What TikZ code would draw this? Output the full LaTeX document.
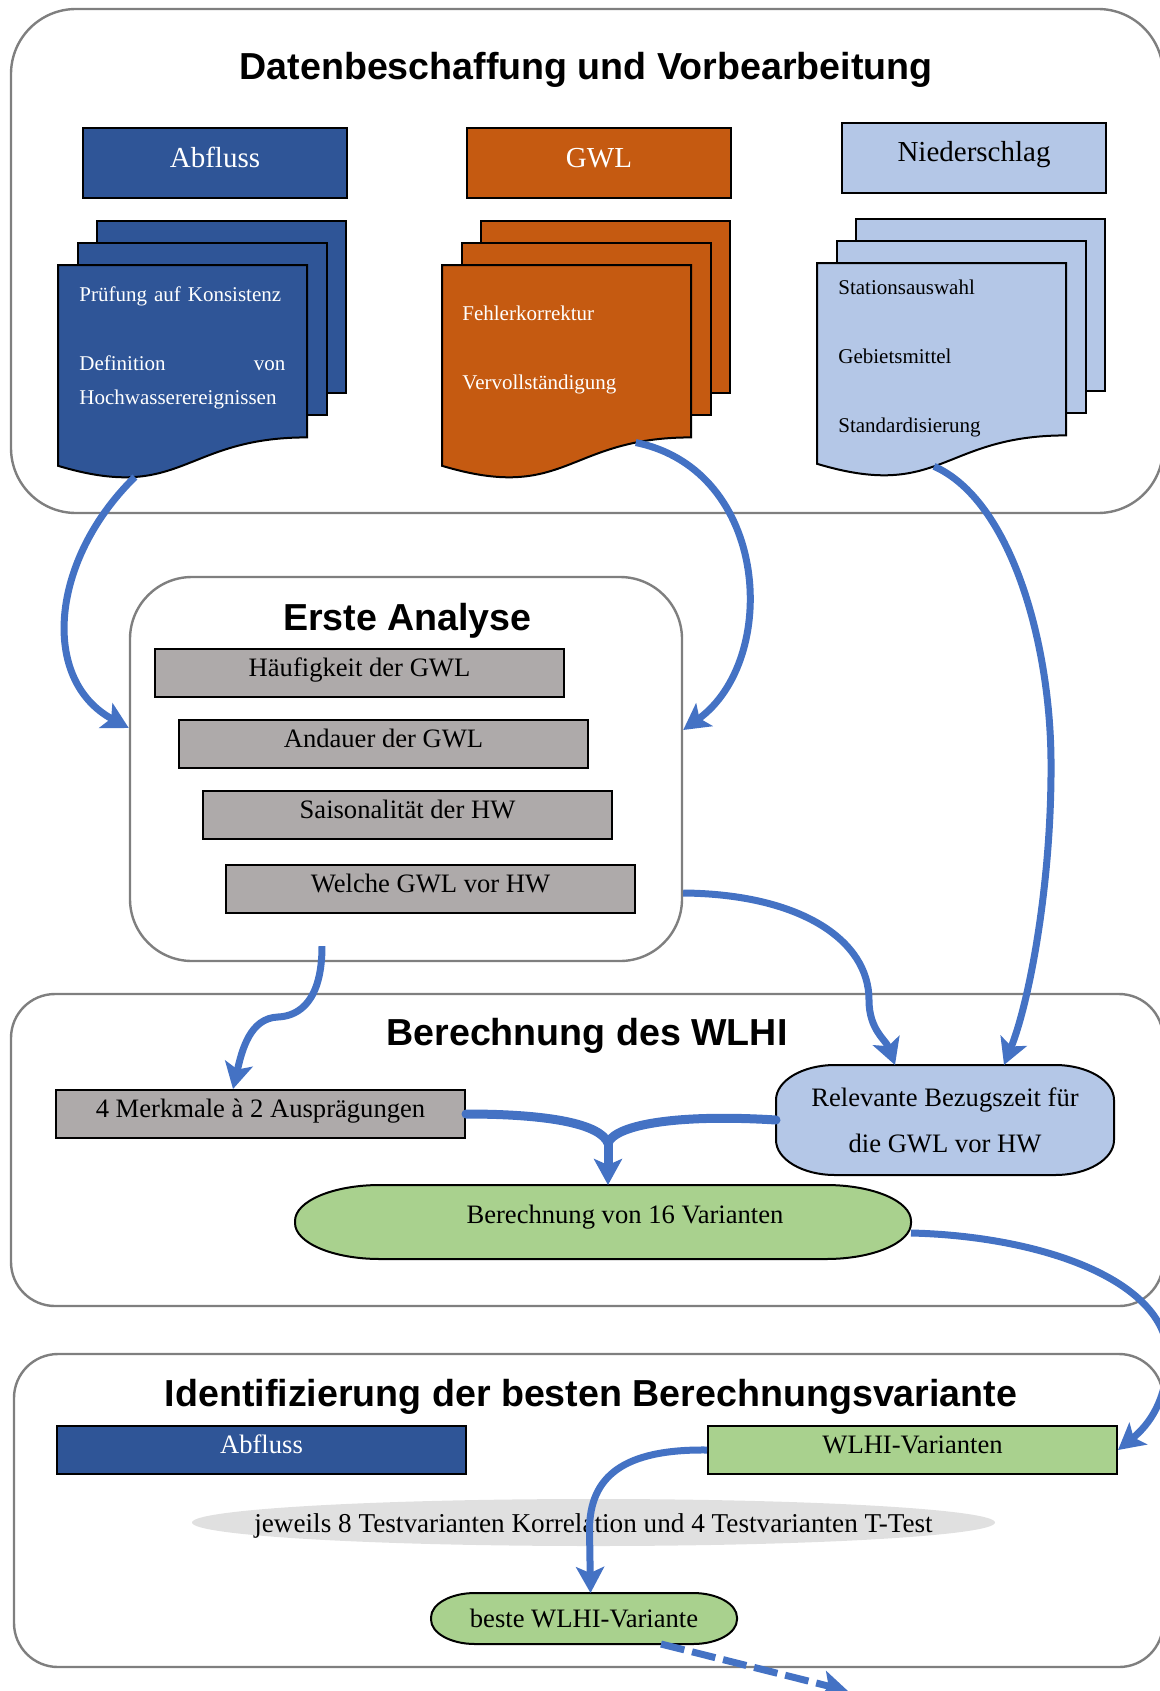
\documentclass[tikz,border=0pt]{standalone}
\usepackage{fontspec}
\setmainfont{Liberation Serif}
\setsansfont{Liberation Sans}
\usetikzlibrary{arrows.meta,backgrounds,calc}

\definecolor{abfblue}{HTML}{2F5597}
\definecolor{gwlorange}{HTML}{C55A11}
\definecolor{nsblue}{HTML}{B4C7E7}
\definecolor{boxgray}{HTML}{AEAAAA}
\definecolor{varigreen}{HTML}{A9D18E}
\definecolor{testgray}{HTML}{E0E0E0}
\definecolor{flowblue}{HTML}{4472C4}
\definecolor{framegray}{HTML}{7F7F7F}

\begin{document}
\begin{tikzpicture}[x=1pt, y=1pt, every node/.style={font=\fontsize{13.3}{16}\selectfont},
	>={Stealth[length=13pt, width=14pt, inset=3pt]},
	groupframe/.style={draw=framegray, line width=1.2pt},
	grouptitle/.style={anchor=base, font=\sffamily\bfseries\fontsize{18.8}{22}\selectfont},
	stepbase/.style={draw=black, line width=1pt, inner sep=0pt, anchor=north west},
	stepbox/.style={stepbase, minimum width=204.5pt, text height=13.5pt, text depth=10.5pt},
	headbox/.style={stepbase, minimum width=132pt, text height=19.5pt, text depth=15.5pt, font=\fontsize{14.5}{17}\selectfont},
	doctext/.style={inner sep=0pt, anchor=base west, text width=110pt, align=left, font=\fontsize{10.5}{17.25}\selectfont},
	docpage/.style={draw=black, line width=1pt},
	flowarrow/.style={draw=flowblue, line width=3.5pt, ->},
	ovalpath/.style n args={3}{insert path={([xshift=#2pt]#1.north west) -- ([xshift=-#2pt]#1.north east)
		arc[start angle=90, end angle=0, x radius=#2, y radius=#3] -- ([yshift=#3pt]#1.south east)
		arc[start angle=0, end angle=-90, x radius=#2, y radius=#3] -- ([xshift=#2pt]#1.south west)
		arc[start angle=270, end angle=180, x radius=#2, y radius=#3] -- ([yshift=-#3pt]#1.north west)
		arc[start angle=180, end angle=90, x radius=#2, y radius=#3] -- cycle}}]
	\useasboundingbox (0,0) rectangle (580,-845.5);

	% group frames
	\node[groupframe, rounded corners=32.5pt, minimum width=576pt, minimum height=252pt] (fData) at (293.5,-130.5) {};
	\node[groupframe, rounded corners=31pt, minimum width=276pt, minimum height=192pt] (fErste) at (203,-384.5) {};
	\node[groupframe, rounded corners=22pt, minimum width=576pt, minimum height=156pt] (fWlhi) at (293.5,-575) {};
	\node[groupframe, rounded corners=22pt, minimum width=574.5pt, minimum height=156.5pt] (fIdent) at (294.25,-755.25) {};

	\node[grouptitle] (tData) at (293,-40) {Datenbeschaffung und Vorbearbeitung};
	\node[grouptitle] (tErste) at (203.7,-315.3) {Erste Analyse};
	\node[grouptitle] (tWlhi) at (293.5,-522.5) {Berechnung des WLHI};
	\node[grouptitle] (tIdent) at (295.5,-703) {Identifizierung der besten Berechnungsvariante};

	% data sources
	\node[headbox, fill=abfblue, text=white] (hAbf) at (41,-63.5) {Abfluss};
	\node[headbox, fill=gwlorange, text=white] (hGwl) at (233,-63.5) {GWL};
	\node[headbox, fill=nsblue] (hNs) at (420.5,-61) {Niederschlag};

	\foreach \x/\y/\col/\p/\nm in {29/-132.5/abfblue/0.737/abf, 221/-132.5/gwlorange/0.175/gwl, 408.5/-131.5/nsblue/0.54/ns}{
		\draw[docpage, fill=\col] (\x+19.5,\y+22) rectangle ++(124.5,-86.2);
		\draw[docpage, fill=\col] (\x+10,\y+11) rectangle ++(124.5,-86.2);
		\draw[docpage, fill=\col] (\x,\y) -- ++(124.5,0) -- ++(0,-86.2)
			.. controls (\x+62.25,\y-86.2) and (\x+62.25,\y-119.1) .. (\x,\y-100.4) coordinate[pos=\p] (\nm-bot) -- cycle;
	}
	\node[doctext, text width=103pt, text=white] (abfTxt) at (39.5,-150.5) {Prüfung auf Konsistenz\\[17.25pt]Definition\hfill von\\Hochwasserereignissen};
	\node[doctext, text=white] (gwlTxt) at (231,-160) {Fehlerkorrektur\\[17.25pt]Vervollständigung};
	\node[doctext] (nsTxt) at (419,-147) {Stationsauswahl\\[17.25pt]Gebietsmittel\\[17.25pt]Standardisierung};

	% erste analyse
	\node[stepbox, fill=boxgray] (haeuf) at (77,-324) {Häufigkeit der GWL};
	\node[stepbox, fill=boxgray] (andauer) at (89,-359.5) {Andauer der GWL};
	\node[stepbox, fill=boxgray] (saison) at (101,-395) {Saisonalität der HW};
	\node[stepbox, fill=boxgray] (welche) at (112.5,-432) {Welche GWL vor HW};

	% WLHI
	\node[stepbox, fill=boxgray] (merk) at (27.5,-544.5) {4 Merkmale à 2 Ausprägungen};
	\node[stepbase, draw=none, minimum width=168pt, minimum height=54pt, align=center, font=\fontsize{13.3}{23}\selectfont] (relev) at (388,-532.5) {Relevante Bezugszeit für\\die GWL vor HW};
	\node[stepbase, draw=none, minimum width=307pt, text height=18.5pt, text depth=17.5pt] (ber16) at (147.5,-592.5) {\hspace*{22pt}Berechnung von 16 Varianten};

	% best variant
	\node[stepbox, fill=abfblue, text=white] (abf2) at (28,-712.5) {Abfluss};
	\node[stepbox, fill=varigreen] (wlhiv) at (353.5,-712.5) {WLHI-Varianten};
	\node[stepbase, draw=none, minimum width=401.5pt, text height=16.5pt, text depth=7pt, font=\fontsize{13.6}{16}\selectfont] (test) at (95.5,-749) {jeweils 8 Testvarianten Korrelation und 4 Testvarianten T-Test};
	\node[stepbase, draw=none, minimum width=152pt, text height=16.5pt, text depth=8pt] (beste) at (215.5,-796.5) {beste WLHI-Variante};

	\begin{scope}[on background layer]
		\fill[testgray] (test.center) ellipse[x radius=200.75, y radius=11.75];
		\draw[docpage, fill=nsblue, ovalpath={relev}{29.5}{17.5}];
		\draw[docpage, fill=varigreen, ovalpath={ber16}{42.5}{18}];
		\draw[docpage, fill=varigreen, ovalpath={beste}{22}{12.25}];
	\end{scope}

	% connectors
	\coordinate (merge) at (304,-571.5);
	\coordinate (exitOut) at (424,-845.5);
	\draw[flowarrow] (abf-bot) .. controls (25,-280) and (20,-340) .. ($(fErste.west)+(0,20.5)$);
	\draw[flowarrow] (gwl-bot) .. controls (385,-235) and (390,-330) .. ($(fErste.east)+(0,19.5)$);
	\draw[flowarrow] (ns-bot) .. controls (505,-250) and (525,-320) .. (525.5,-380) .. controls (526,-440) and (515,-500) .. ($(relev.north)+(29.5,0)$);
	\draw[flowarrow] ($(fErste.east)+(0,-62)$) .. controls (400,-447) and (434.5,-470) .. (434.5,-500) .. controls (434.5,-515) and (443,-520) .. ($(relev.north)+(-25,0)$);
	\draw[flowarrow] ($(fErste.south)+(-42,8)$) .. controls (161,-500) and (150,-508) .. (139,-508.5) .. controls (125,-509) and (121,-525) .. ($(merk.north)+(-13.75,0)$);
	\draw[flowarrow, -, line width=4.5pt, line cap=round] (merk.east) .. controls (275,-557) and (300,-562) .. (merge);
	\draw[flowarrow, -, line width=4.5pt, line cap=round] (relev.west) .. controls (340,-557) and (308,-562) .. (merge);
	\draw[flowarrow, line width=4.5pt] (merge) -- (merge |- ber16.north);
	\draw[flowarrow] ($(ber16.east)+(0,-5.5)$) .. controls (520,-618) and (585,-640) .. (584,-680) .. controls (583,-700) and (575,-712) .. (wlhiv.east);
	\draw[flowarrow] (wlhiv.west) .. controls (312,-724.5) and (294.75,-738) .. (294.75,-765) -- ([xshift=3.25pt]beste.north);
	\draw[flowarrow, dash pattern=on 12pt off 4pt] ([xshift=38.5pt]beste.south) -- (exitOut);
\end{tikzpicture}
\end{document}
